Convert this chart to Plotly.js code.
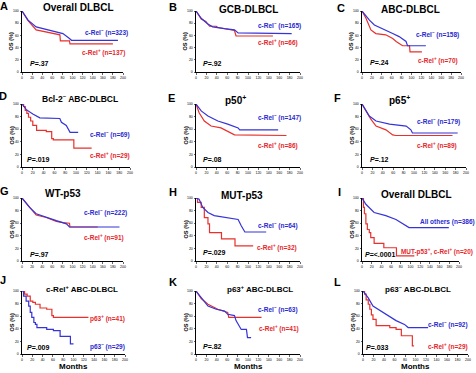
<!DOCTYPE html>
<html>
<head>
<meta charset="utf-8">
<script src="https://cdn.plot.ly/plotly-3.0.1.min.js"></script>
<style>html,body{margin:0;padding:0;background:#fff;}#chart{width:476px;height:373px;}</style>
</head>
<body>
<div id="chart"></div>
<script>
// Overall survival (OS %, months) for each subgroup
const monthTicks = [0, 20, 40, 60, 80, 100, 120, 140, 160, 180, 200];
const osTicks = [0, 20, 40, 60, 80, 100];

const aNegMonths = [0, 12, 28, 55, 81, 94, 98, 190];
const aNegOS     = [100, 85, 74, 68, 63, 55, 52, 52];
const aPosMonths = [0, 12, 28, 48, 75, 76, 94, 95, 180];
const aPosOS     = [100, 84, 69, 66, 61, 51, 51, 46, 46];

const bNegMonths = [0, 10, 22, 32, 55, 74, 81, 184];
const bNegOS     = [100, 88, 79, 74, 71, 69, 64, 63];
const bPosMonths = [0, 10, 19, 26, 39, 42, 74, 77, 148];
const bPosOS     = [100, 87, 83, 75, 75, 73, 68, 59, 59];

const cNegMonths = [0, 15, 25, 42, 62, 75, 89, 92, 129];
const cNegOS     = [100, 85, 77, 71, 63, 58, 50, 43, 43];
const cPosMonths = [0, 8, 18, 28, 48, 62, 69, 82, 96, 97, 121];
const cPosOS     = [100, 88, 69, 63, 61, 55, 50, 43, 43, 33, 33];

const dNegMonths = [0, 8, 20, 33, 70, 73, 82, 89, 104];
const dNegOS     = [100, 91, 84, 78, 77, 71, 66, 55, 55];
const dPosMonths = [0, 3, 6, 9, 12, 16, 20, 27, 45, 55, 58, 96, 129];
const dPosOS     = [100, 96, 90, 85, 79, 73, 66, 58, 56, 45, 43, 30, 30];

const eNegMonths = [0, 10, 23, 42, 61, 81, 84, 158];
const eNegOS     = [100, 89, 81, 73, 68, 62, 59, 59];
const ePosMonths = [0, 6, 16, 29, 48, 61, 74, 174];
const ePosOS     = [100, 86, 73, 65, 62, 57, 51, 50];

const fNegMonths = [0, 14, 27, 53, 85, 94, 97, 184];
const fNegOS     = [100, 81, 73, 68, 65, 59, 54, 54];
const fPosMonths = [0, 8, 17, 27, 46, 59, 65, 174];
const fPosOS     = [100, 89, 76, 65, 59, 51, 50, 50];

const gNegMonths = [0, 15, 28, 48, 68, 88, 94, 193];
const gNegOS     = [100, 85, 75, 69, 64, 59, 54, 54];
const gPosMonths = [0, 15, 28, 48, 68, 81, 94, 95, 150];
const gPosOS     = [100, 85, 73, 69, 63, 61, 60, 54, 54];

const hNegMonths = [0, 6, 13, 23, 35, 55, 81, 87, 94, 135];
const hNegOS     = [100, 98, 85, 77, 72, 69, 66, 56, 46, 46];
const hPosMonths = [0, 3, 10, 16, 23, 26, 49, 75, 110];
const hPosOS     = [100, 93, 85, 69, 59, 45, 35, 24, 24];

const iOtherMonths = [0, 8, 25, 49, 70, 97, 179];
const iOtherOS     = [100, 90, 77, 72, 66, 53, 53];
const iMutMonths   = [0, 3, 5, 8, 11, 15, 18, 25, 45, 71, 108];
const iMutOS       = [100, 85, 75, 59, 50, 45, 37, 28, 21, 8, 8];

const jP63NegMonths = [0, 3, 8, 13, 16, 19, 23, 26, 29, 48, 61, 74, 94, 100];
const jP63NegOS     = [100, 92, 84, 76, 66, 58, 50, 47, 42, 39, 37, 28, 16, 16];
const jP63PosMonths = [0, 5, 10, 16, 21, 26, 35, 48, 58, 61, 129];
const jP63PosOS     = [100, 95, 92, 84, 82, 79, 73, 71, 61, 58, 58];

const kNegMonths = [0, 10, 23, 39, 55, 61, 74, 77, 87, 97, 99, 106];
const kNegOS     = [100, 89, 76, 71, 68, 63, 61, 53, 39, 39, 26, 26];
const kPosMonths = [0, 10, 23, 42, 61, 63, 126];
const kPosOS     = [100, 88, 79, 71, 66, 58, 58];

const lNegMonths = [0, 10, 19, 38, 51, 63, 79, 86, 124];
const lNegOS     = [100, 89, 76, 66, 58, 53, 47, 42, 42];
const lPosMonths = [0, 3, 6, 10, 13, 16, 19, 25, 51, 63, 73, 94, 97];
const lPosOS     = [100, 95, 86, 79, 71, 62, 55, 45, 42, 39, 29, 13, 13];

const panelTitles = ['Overall DLBCL', 'GCB-DLBCL', 'ABC-DLBCL',
  'Bcl-2<sup>–</sup> ABC-DLBCL', 'p50<sup>+</sup>', 'p65<sup>+</sup>',
  'WT-p53', 'MUT-p53', 'Overall DLBCL',
  'c-Rel<sup>+</sup> ABC-DLBCL', 'p63<sup>+</sup> ABC-DLBCL', 'p63<sup>–</sup> ABC-DLBCL'];
const panelLetters = ['A', 'B', 'C', 'D', 'E', 'F', 'G', 'H', 'I', 'J', 'K', 'L'];
const pValues = ['.37', '.92', '.24', '.019', '.08', '.12', '.97', '.029', '<.0001', '.009', '.82', '.033'];

const W = 476, H = 373;
const BLUE = '#3434d8', RED = '#e8302c';
const BLUE_TXT = '#2a2ad0', RED_TXT = '#e6262a';
const FONT = 'Liberation Sans, Arial, Helvetica, sans-serif';

// plot boxes in pixels: [left, right, top(100%), bottom(0%)]
const boxes = [
  [22, 123, 11, 72], [196, 300, 11, 72], [362, 461, 11, 72],
  [22, 130, 104, 167], [196, 300, 104, 167], [362, 466, 104, 167],
  [22, 123, 198, 261], [196, 300, 198, 261], [362, 459, 198, 261],
  [22, 125, 291, 354], [196, 300, 291, 354], [363, 468, 291, 354]
];

// per panel: red curve first, then blue; 'hv' for small groups with visible steps
const curves = [
  [[aPosMonths, aPosOS, RED, 'linear'], [aNegMonths, aNegOS, BLUE, 'linear']],
  [[bPosMonths, bPosOS, RED, 'linear'], [bNegMonths, bNegOS, BLUE, 'linear']],
  [[cPosMonths, cPosOS, RED, 'linear'], [cNegMonths, cNegOS, BLUE, 'linear']],
  [[dPosMonths, dPosOS, RED, 'hv'], [dNegMonths, dNegOS, BLUE, 'linear']],
  [[ePosMonths, ePosOS, RED, 'linear'], [eNegMonths, eNegOS, BLUE, 'linear']],
  [[fPosMonths, fPosOS, RED, 'linear'], [fNegMonths, fNegOS, BLUE, 'linear']],
  [[gPosMonths, gPosOS, RED, 'linear'], [gNegMonths, gNegOS, BLUE, 'linear']],
  [[hPosMonths, hPosOS, RED, 'hv'], [hNegMonths, hNegOS, BLUE, 'linear']],
  [[iMutMonths, iMutOS, RED, 'hv'], [iOtherMonths, iOtherOS, BLUE, 'linear']],
  [[jP63PosMonths, jP63PosOS, RED, 'hv'], [jP63NegMonths, jP63NegOS, BLUE, 'hv']],
  [[kPosMonths, kPosOS, RED, 'linear'], [kNegMonths, kNegOS, BLUE, 'linear']],
  [[lPosMonths, lPosOS, RED, 'hv'], [lNegMonths, lNegOS, BLUE, 'linear']]
];

// group labels: [text, color, left px, center y px, font size]
const groupLabels = [
  [['c-Rel<sup>–</sup> (n=323)', BLUE_TXT, 83, 32], ['c-Rel<sup>+</sup> (n=137)', RED_TXT, 80, 53]],
  [['c-Rel<sup>–</sup> (n=165)', BLUE_TXT, 256, 25], ['c-Rel<sup>+</sup> (n=66)', RED_TXT, 256, 43]],
  [['c-Rel<sup>–</sup> (n=158)', BLUE_TXT, 414, 35], ['c-Rel<sup>+</sup> (n=70)', RED_TXT, 416, 60]],
  [['c-Rel<sup>–</sup> (n=69)', BLUE_TXT, 88, 134], ['c-Rel<sup>+</sup> (n=29)', RED_TXT, 88, 155]],
  [['c-Rel<sup>–</sup> (n=147)', BLUE_TXT, 256, 117], ['c-Rel<sup>+</sup> (n=86)', RED_TXT, 256, 145]],
  [['c-Rel<sup>–</sup> (n=179)', BLUE_TXT, 415, 121], ['c-Rel<sup>+</sup> (n=89)', RED_TXT, 415, 145]],
  [['c-Rel<sup>–</sup> (n=222)', BLUE_TXT, 82, 212], ['c-Rel<sup>+</sup> (n=91)', RED_TXT, 82, 237]],
  [['c-Rel<sup>–</sup> (n=64)', BLUE_TXT, 256, 226], ['c-Rel<sup>+</sup> (n=32)', RED_TXT, 255, 247]],
  [['All others (n=386)', BLUE_TXT, 418, 222], ['MUT-p53<sup>+</sup>, c-Rel<sup>+</sup> (n=20)', RED_TXT, 399, 251, 6.4]],
  [['p63<sup>+</sup> (n=41)', RED_TXT, 88, 318], ['p63<sup>–</sup> (n=29)', BLUE_TXT, 88, 346]],
  [['c-Rel<sup>–</sup> (n=63)', BLUE_TXT, 256, 309], ['c-Rel<sup>+</sup> (n=41)', RED_TXT, 257, 328]],
  [['c-Rel<sup>–</sup> (n=92)', BLUE_TXT, 426, 324], ['c-Rel<sup>+</sup> (n=29)', RED_TXT, 426, 346]]
];

const titlePos = [[78, 7, 10], [248, 9, 10], [410, 9, 10], [80, 99, 8.5], [235, 100, 10], [399, 100, 10],
  [63, 193, 10], [242, 195, 10], [416, 194, 10], [82, 289, 8], [260, 289, 8], [418, 289, 8]];
const letterPos = [[4, 6], [173, 7], [341, 8], [3, 96], [171, 98], [337, 98],
  [4, 191], [173, 192], [339, 192], [3, 280], [173, 282], [337, 282]];
const pPos = [[28, 63], [201, 63], [368, 62], [25, 159], [201, 159], [368, 159],
  [28, 254], [201, 252], [363, 254], [25, 347], [201, 346], [364, 347]];

const px = x => x / W;
const py = y => 1 - y / H;

const data = [];
const layout = {
  width: W, height: H,
  margin: {l: 0, r: 0, t: 0, b: 0},
  paper_bgcolor: '#fff', plot_bgcolor: '#fff',
  showlegend: false,
  font: {family: FONT, color: '#000'},
  annotations: []
};

function ann(text, x, y, size, opts) {
  layout.annotations.push(Object.assign({
    text: text, x: px(x), y: py(y), xref: 'paper', yref: 'paper',
    showarrow: false, xanchor: 'left', yanchor: 'middle',
    font: {family: FONT, size: size, color: '#000'}
  }, opts || {}));
}

boxes.forEach((b, i) => {
  const n = i === 0 ? '' : String(i + 1);
  const axisCommon = {
    showgrid: false, zeroline: false, showline: true, linecolor: '#000', linewidth: 1,
    ticks: 'outside', ticklen: 1.5, tickwidth: 0.6, tickcolor: '#000',
    tickfont: {family: FONT, size: 3.5, color: '#000'}, fixedrange: true
  };
  layout['xaxis' + n] = Object.assign({}, axisCommon, {
    domain: [px(b[0]), px(b[1])], range: [0, 200], anchor: 'y' + n,
    tickvals: monthTicks, ticktext: monthTicks.map(String)
  });
  layout['yaxis' + n] = Object.assign({}, axisCommon, {
    domain: [py(b[3]), py(b[2])], range: [0, 100], anchor: 'x' + n,
    tickvals: osTicks, ticktext: osTicks.map(String)
  });
  curves[i].forEach(c => {
    data.push({
      type: 'scatter', mode: 'lines', x: c[0], y: c[1],
      xaxis: 'x' + n, yaxis: 'y' + n, cliponaxis: false,
      line: {color: c[2], width: 1.2, shape: c[3]}, hoverinfo: 'skip'
    });
  });
  ann('<b>' + panelTitles[i] + '</b>', titlePos[i][0], titlePos[i][1], titlePos[i][2], {xanchor: 'center'});
  ann('<b>' + panelLetters[i] + '</b>', letterPos[i][0], letterPos[i][1], 11, {xanchor: 'center'});
  ann('<b><i>P</i>=' + pValues[i].replace('<', '&lt;') + '</b>', pPos[i][0], pPos[i][1], 7);
  ann('<b>OS (%)</b>', b[0] - 11, (b[2] + b[3]) / 2, 5.6, {xanchor: 'center', textangle: -90});
  groupLabels[i].forEach(g => {
    const s = g[4] || 6.5;
    ann('<b>' + g[0] + '</b>', g[2], g[3], s, {font: {family: FONT, size: s, color: g[1]}});
  });
  if (i >= 9) {
    ann('<b>Months</b>', (b[0] + b[1]) / 2, 366, 8, {xanchor: 'center'});
  }
});

Plotly.newPlot('chart', data, layout, {displayModeBar: false, staticPlot: true});
</script>
</body>
</html>
